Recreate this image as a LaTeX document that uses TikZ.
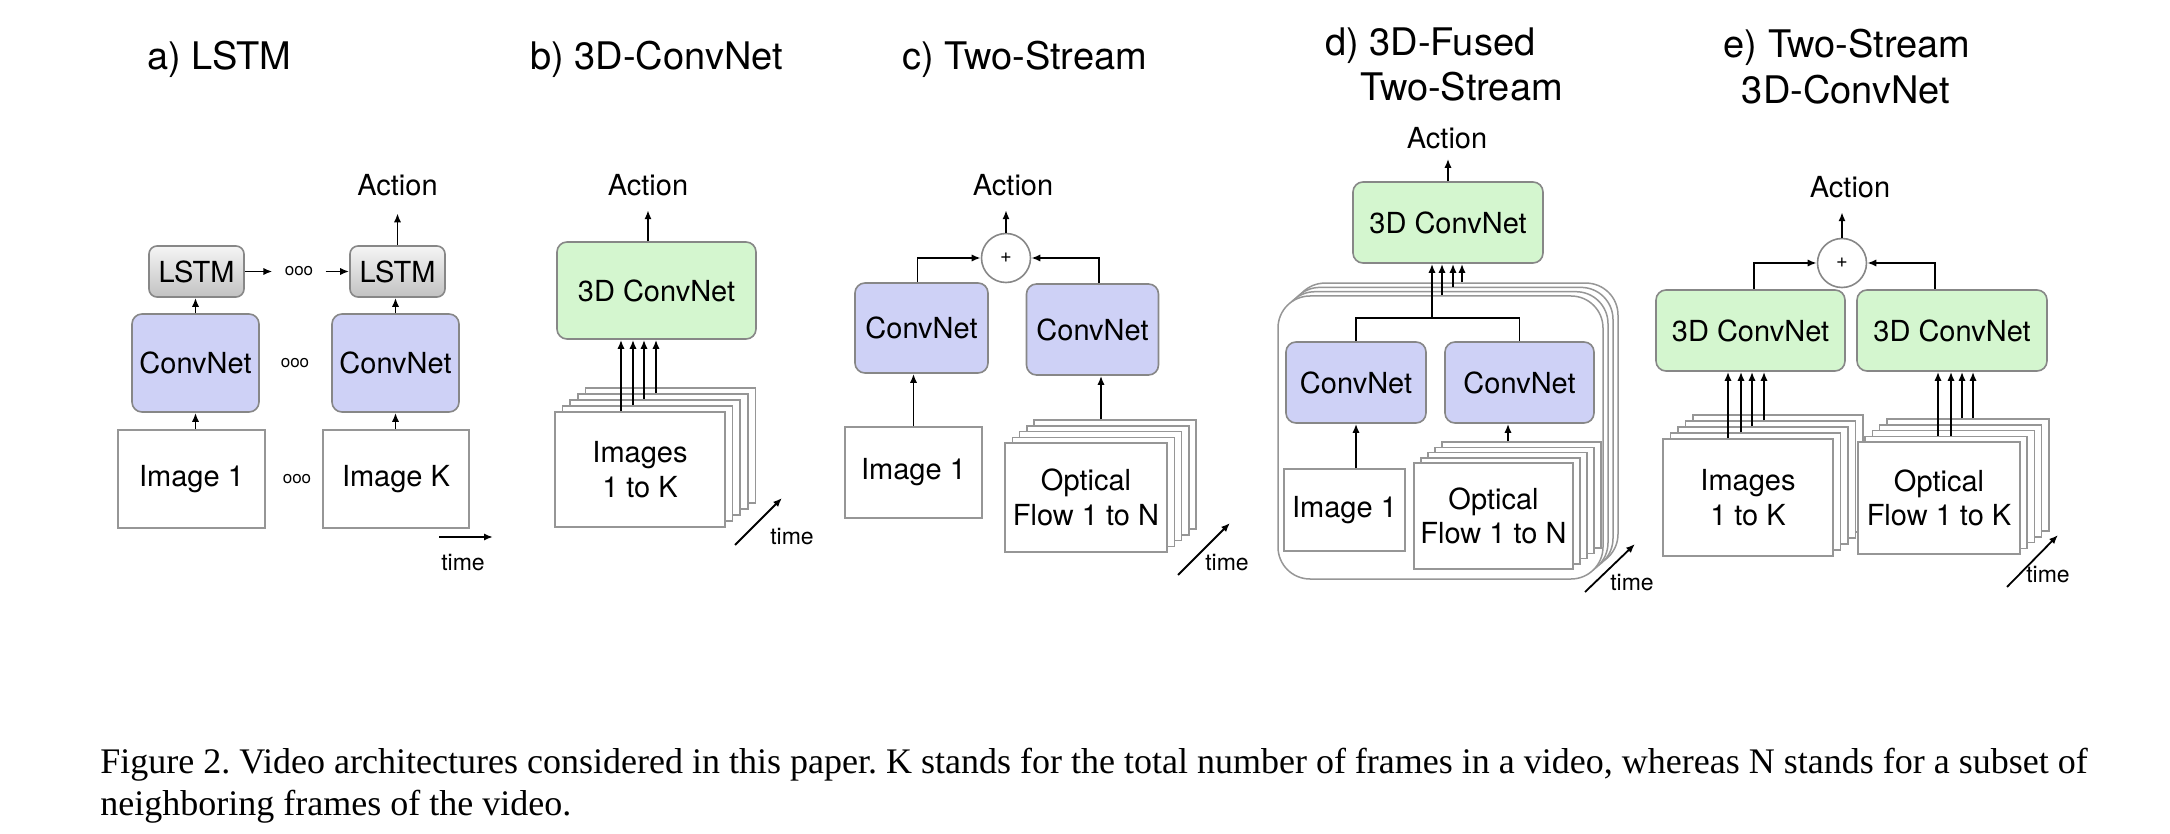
\documentclass[tikz,border=0pt]{standalone}
\usepackage{fontspec}
\setmainfont{TeX Gyre Heros}
\newfontfamily\captionfont{Liberation Serif}
\usetikzlibrary{positioning}
\usetikzlibrary{arrows.meta}
\definecolor{boxgray}{RGB}{135,135,135}
\definecolor{framegray}{RGB}{150,150,150}
\definecolor{convblue}{RGB}{206,209,246}
\definecolor{convgreen}{RGB}{212,246,207}
\frenchspacing
\tikzset{
  >={Latex[length=4.5pt,width=3.6pt]},
  arr/.style={->,line width=0.9pt},
  net node/.style 2 args={draw=boxgray,rounded corners=5pt,line width=0.8pt,minimum width=#1,minimum height=#2,inner sep=0pt,font=\fontsize{14.5}{17.25}\selectfont},
  conv node/.style 2 args={net node={#1}{#2},fill=convblue},
  cube node/.style 2 args={net node={#1}{#2},fill=convgreen},
  lstm node/.style={net node={47.5pt}{25.5pt},rounded corners=4pt,top color=black!4,bottom color=black!24},
  frame node/.style 2 args={draw=framegray,fill=white,line width=0.75pt,minimum width=#1,minimum height=#2,inner sep=0pt,align=center,font=\fontsize{14.5}{17.25}\selectfont},
  fused node/.style={draw=framegray,fill=white,line width=0.75pt,rounded corners=16pt,minimum width=162.5pt,minimum height=141.5pt,inner sep=0pt},
  sum node/.style={circle,draw=boxgray,fill=white,line width=0.8pt,minimum size=24.5pt,inner sep=0pt,font=\fontsize{10}{12}\selectfont},
  act node/.style={inner sep=7pt,font=\fontsize{14.5}{17.25}\selectfont},
  title node/.style={inner sep=0pt,font=\fontsize{19}{22}\selectfont},
  time node/.style={inner sep=0pt,font=\fontsize{11.5}{13}\selectfont},
  dots node/.style={inner sep=6pt,font=\fontsize{8.5}{10}\selectfont},
  caption node/.style={inner sep=0pt,font=\captionfont\fontsize{18}{21}\selectfont}
}
\begin{document}
\begin{tikzpicture}[x=0.5pt,y=-0.5pt]
\useasboundingbox (0,0) rectangle (2170,834);
\fill[white] (0,0) rectangle (2170,834);
\begin{scope}[on grid]

  \node[title node,anchor=base west] (atitle) at (147,70) {a) LSTM};
  \node[lstm node] (al1) at (196.5,271.5) {LSTM};
  \node[lstm node] (al2) at (397.5,271.5) {LSTM};
  \node[conv node={63.5pt}{49pt}] (ac1) at (195.5,363) {ConvNet};
  \node[conv node={63.5pt}{49pt}] (ac2) at (395.5,363) {ConvNet};
  \node[frame node={73.5pt}{49pt}] (ai1) at (191.5,479) {Image 1};
  \node[frame node={73pt}{49pt}] (ai2) at (396,479) {Image K};
  \node[dots node] (ad1) [right=51.25pt of al1] {ooo};
  \node[dots node] (ad2) [right=49.75pt of ac1] {ooo};
  \node[dots node] (ad3) [right=52.75pt of ai1] {ooo};
  \node[act node,inner sep=8.3pt] (aact) [above=43pt of al2] {Action};
  \coordinate (at0) at (439,537);
  \coordinate (at1) at (493,537);
  \node[time node] (atime) at (463,563) {time};

  \draw[arr] (ai1.north -| ac1.south) -- (ac1.south);
  \draw[arr] (ai2.north -| ac2.south) -- (ac2.south);
  \draw[arr] (ac1.north) -- (ac1.north |- al1.south);
  \draw[arr] (ac2.north) -- (ac2.north |- al2.south);
  \draw[arr] (al1.east) -- (al1.east -| ad1.west);
  \draw[arr] (ad1.east |- al2.west) -- (al2.west);
  \draw[arr] (al2.north) -- (aact.south);
  \draw[arr] (at0) -- (at1);

  \node[title node,anchor=base west] (btitle) at (530,70) {b) 3D-ConvNet};
  \node[cube node={99.5pt}{48.5pt}] (bnet) at (656.5,290.5) {3D ConvNet};
  \foreach \k in {4,...,1}
    \node[frame node={85pt}{57.5pt}] (bf\k) at ({640+\k*7.6},{469.5-\k*6}) {};
  \node[frame node={85pt}{57.5pt}] (bf0) at (640,469.5) {Images\\1 to K};
  \node[act node] (bact) at (648,185) {Action};
  \coordinate (bt0) at (735,545);
  \coordinate (bt1) at (782,498);
  \node[time node] (btime) at (792,537) {time};

  \draw[arr] (bnet.north -| bact.south) -- (bact.south);
  \foreach \x/\k in {621/0,633/1,644/2,656/3}
    \draw[arr] (\x,0 |- bf\k.north) -- (\x,0 |- bnet.south);
  \draw[arr] (bt0) -- (bt1);

  \node[title node,anchor=base west] (ctitle) at (902,70) {c) Two-Stream};
  \node[conv node={66.5pt}{45pt}] (cc1) at (921.5,328) {ConvNet};
  \node[conv node={66pt}{45.5pt}] (cc2) at (1092.5,329.5) {ConvNet};
  \node[sum node] (csum) at (1006,258) {+};
  \node[act node] (cact) at (1013,185) {Action};
  \node[frame node={68.5pt}{45.5pt}] (ci1) at (913.5,472.5) {Image 1};
  \foreach \k in {4,...,1}
    \node[frame node={81pt}{54.5pt}] (cf\k) at ({1086+\k*7.25},{497.5-\k*5.75}) {};
  \node[frame node={81pt}{54.5pt}] (cf0) at (1086,497.5) {Optical\\Flow 1 to N};
  \coordinate (ct0) at (1178,575);
  \coordinate (ct1) at (1230,523);
  \node[time node] (ctime) at (1227,563) {time};

  \draw[arr] (csum.north) -- (csum.north |- cact.south);
  \draw[arr] ([xshift=-2pt]cc1.north) |- (csum.west);
  \draw[arr] ([xshift=3.2pt]cc2.north) |- (csum.east);
  \draw[arr] (ci1.north) -- (ci1.north |- cc1.south);
  \draw[arr] (1101,0 |- cf4.north) -- (1101,0 |- cc2.south);
  \draw[arr] (ct0) -- (ct1);

  \node[title node,anchor=base west] (dtitle1) at (1325,55.5) {d) 3D-Fused};
  \node[title node,anchor=base west] (dtitle2) at (1360,100.5) {Two-Stream};
  \node[cube node={95pt}{40.5pt}] (dnet) at (1448,222.5) {3D ConvNet};
  \node[act node,inner sep=4.8pt] (dact) at (1447,138) {Action};
  \foreach \k in {3,...,0}
    \node[fused node] (dbox\k) at ({1440.5+\k*5},{437.5-\k*4.3}) {};
  \node[conv node={70pt}{40.5pt}] (dc1) at (1356,382.5) {ConvNet};
  \node[conv node={74.5pt}{40.5pt}] (dc2) at (1519.5,382.5) {ConvNet};
  \node[frame node={60.5pt}{41pt}] (di1) at (1344.5,510) {Image 1};
  \foreach \k in {4,...,1}
    \node[frame node={79.5pt}{53pt}] (df\k) at ({1493.5+\k*7},{516-\k*5.2}) {};
  \node[frame node={79.5pt}{53pt}] (df0) at (1493.5,516) {Optical\\Flow 1 to N};
  \coordinate (dj) at (1432,318);
  \coordinate (dt0) at (1585,592);
  \coordinate (dt1) at (1635,544);
  \node[time node] (dtime) at (1632,583) {time};

  \draw[arr] (dnet.north) -- (dnet.north |- dact.south);
  \draw[line width=0.9pt] (dc1.north) |- (dj) -| (dc2.north);
  \draw[arr] (dj) -- (dj |- dnet.south);
  \foreach \x/\k in {1442/0,1453/2,1462/3}
    \draw[arr] (\x,0 |- dbox\k.north) -- (\x,0 |- dnet.south);
  \draw[arr] (di1.north -| dc1.south) -- (dc1.south);
  \draw[arr] (1508,0 |- df4.north) -- (1508,0 |- dc2.south);
  \draw[arr] (dt0) -- (dt1);

  \node[title node,anchor=base] (etitle1) at (1847,57.5) {e) Two-Stream};
  \node[title node,anchor=base] (etitle2) at (1846,103.5) {3D-ConvNet};
  \node[cube node={94.5pt}{40.5pt}] (enet1) at (1750.5,330.5) {3D ConvNet};
  \node[cube node={95pt}{40.5pt}] (enet2) at (1952,330.5) {3D ConvNet};
  \node[sum node] (esum) at (1842,263) {+};
  \node[act node] (eact) at (1850,187) {Action};
  \foreach \k in {4,...,1}
    \node[frame node={85pt}{58.5pt}] (eif\k) at ({1748+\k*7.5},{497.5-\k*6}) {};
  \node[frame node={85pt}{58.5pt}] (eif0) at (1748,497.5) {Images\\1 to K};
  \foreach \k in {4,...,1}
    \node[frame node={81pt}{56pt}] (eof\k) at ({1939+\k*7.2},{498-\k*5.7}) {};
  \node[frame node={81pt}{56pt}] (eof0) at (1939,498) {Optical\\Flow 1 to K};
  \coordinate (et0) at (2007,587);
  \coordinate (et1) at (2058,535);
  \node[time node] (etime) at (2048,575) {time};

  \draw[arr] (esum.north) -- (esum.north |- eact.south);
  \draw[arr] ([xshift=1.75pt]enet1.north) |- (esum.west);
  \draw[arr] ([xshift=-8.5pt]enet2.north) |- (esum.east);
  \foreach \x/\k in {1728/0,1741/1,1752/2,1764/3}
    \draw[arr] (\x,0 |- eif\k.north) -- (\x,0 |- enet1.south);
  \foreach \x/\k in {1938/1,1951/1,1962/4,1973/4}
    \draw[arr] (\x,0 |- eof\k.north) -- (\x,0 |- enet2.south);
  \draw[arr] (et0) -- (et1);

  \node[caption node,anchor=base west] (cap1) at (100,773) {Figure 2. Video architectures considered in this paper. K stands for the total number of frames in a video, whereas N stands for a subset of};
  \node[caption node,anchor=base west] (cap2) at (100,815) {neighboring frames of the video.};
\end{scope}
\end{tikzpicture}
\end{document}
